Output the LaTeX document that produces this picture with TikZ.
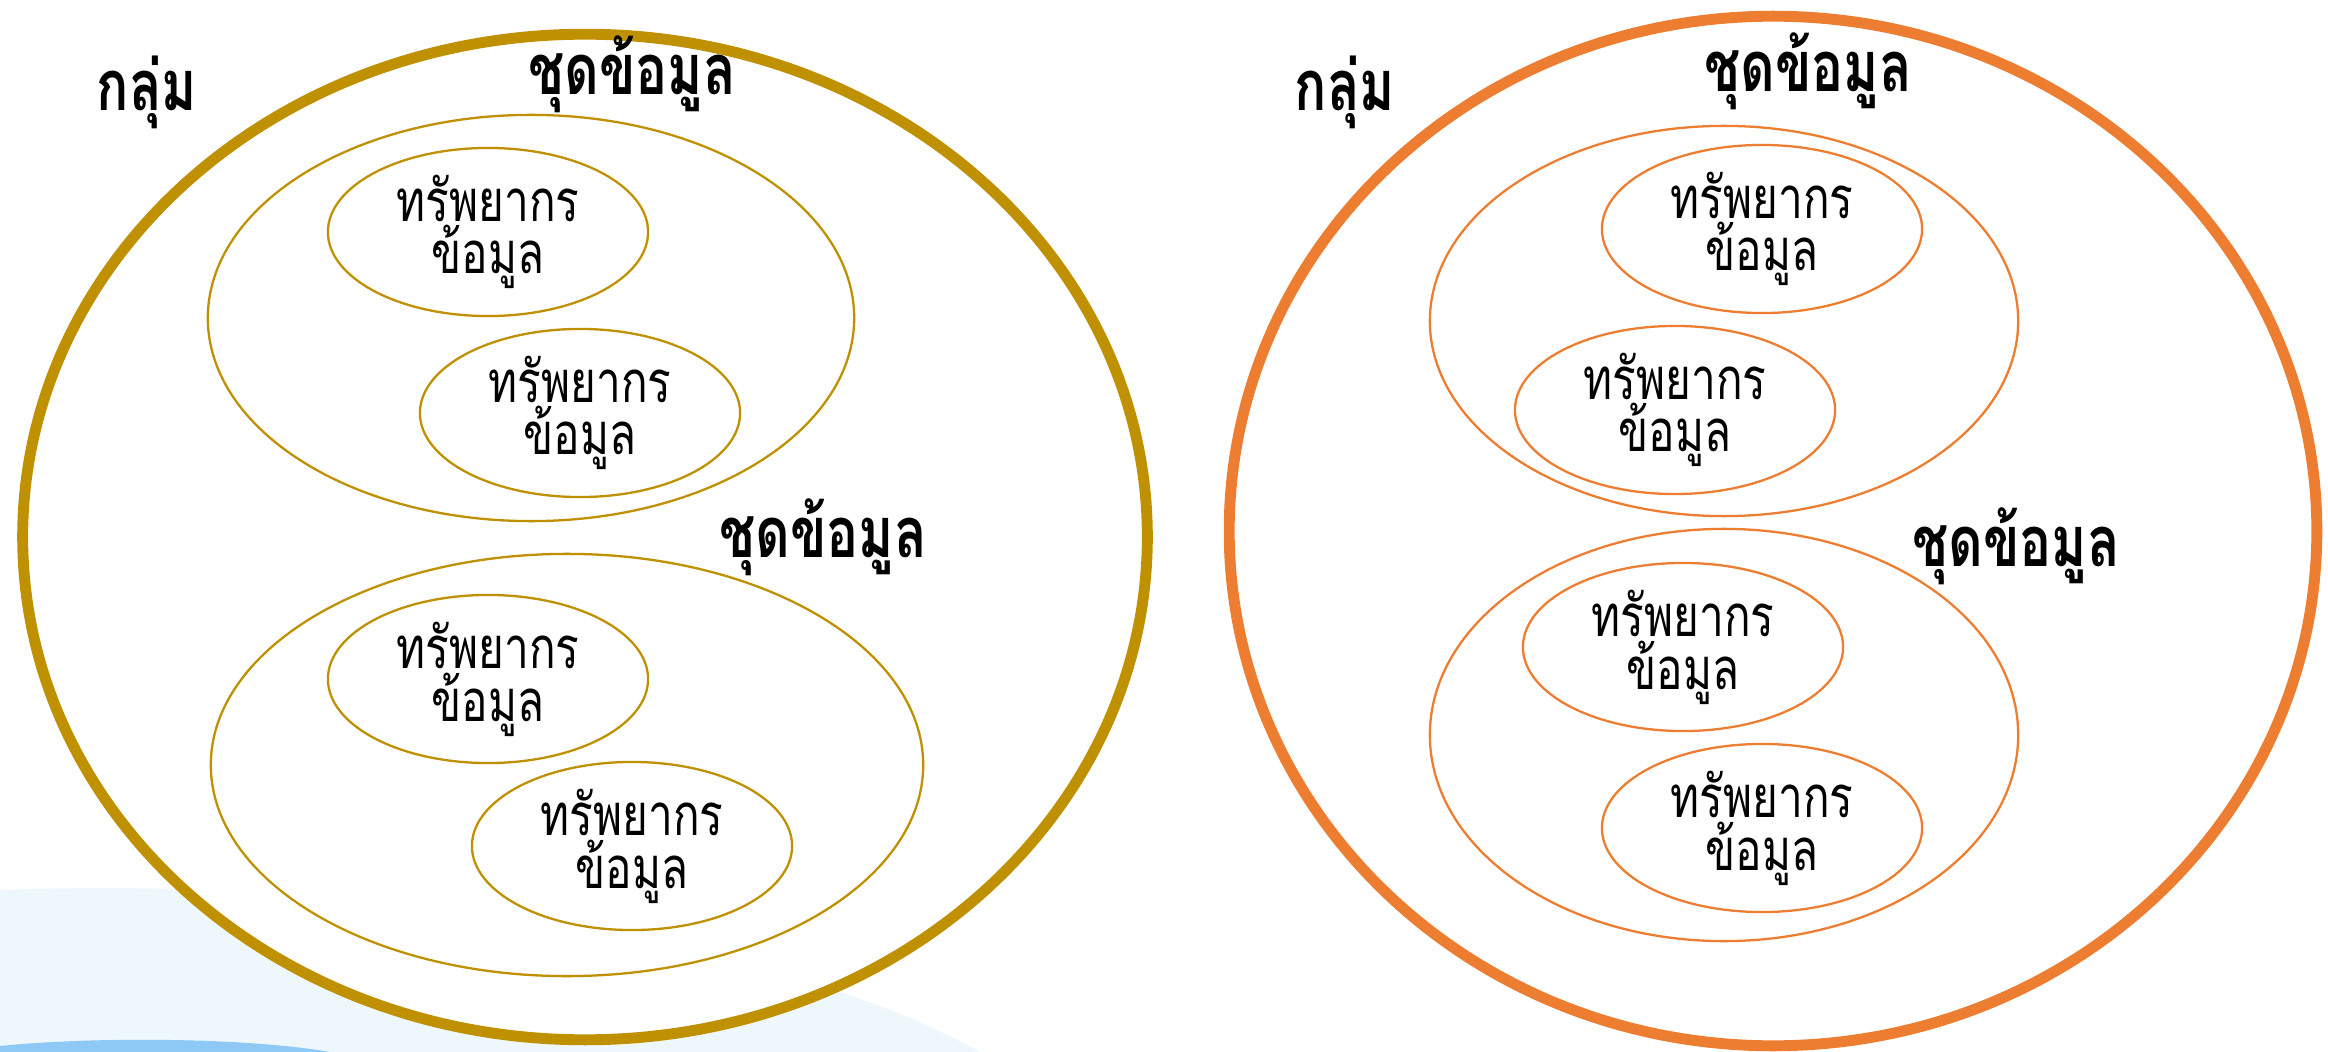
\documentclass[tikz,border=0pt]{standalone}
\usepackage{fontspec}
\newfontfamily\thaifont[Script=Thai, FakeStretch=0.76]{Loma}
\usetikzlibrary{shapes.geometric}
\definecolor{gold}{HTML}{BF9000}
\definecolor{tangerine}{HTML}{ED7D31}
\definecolor{washblue}{HTML}{EEF8FC}
\definecolor{bandblue}{HTML}{8EC8F4}
\tikzset{
  grp/.style={ellipse, draw=#1, line width=3.1pt, fill=white, inner sep=0pt},
  dataset/.style={ellipse, draw=#1, line width=0.65pt, inner sep=0pt},
  resource/.style={ellipse, draw=#1, line width=0.65pt, inner sep=0pt,
    minimum width=3.2cm, minimum height=1.68cm, align=center,
    font=\thaifont\fontsize{16.5}{15}\selectfont},
  tag/.style={font=\thaifont\bfseries\fontsize{20}{22}\selectfont, inner sep=0pt}
}
\begin{document}
\begin{tikzpicture}[x=0.01cm,y=-0.01cm]
\useasboundingbox (0,0) rectangle (2328,1052);
% background wash
\fill[washblue] (0,1052) -- (0,890) .. controls (400,875) and (800,950) .. (980,1052) -- cycle;
\fill[bandblue] (0,1052) -- (0,1046) .. controls (100,1036) and (250,1038) .. (330,1052) -- cycle;
% left group
\node[grp=gold, minimum width=11.24cm, minimum height=10.05cm] (grpL) at (585,537) {};
\node[dataset=gold, minimum width=6.46cm, minimum height=4.06cm] (setLa) at (531,318) {};
\node[dataset=gold, minimum width=7.12cm, minimum height=4.22cm] (setLb) at (567,765) {};
\node[resource=gold] (resLa) at (488,232) {ทรัพยากร\\ข้อมูล};
\node[resource=gold] (resLb) at (580,413) {ทรัพยากร\\ข้อมูล};
\node[resource=gold] (resLc) at (488,679) {ทรัพยากร\\ข้อมูล};
\node[resource=gold] (resLd) at (632,846) {ทรัพยากร\\ข้อมูล};
\node[tag] (grpLtag) at (147,92) {กลุ่ม};
\node[tag] (setLatag) at (632,74) {ชุดข้อมูล};
\node[tag] (setLbtag) at (823,537) {ชุดข้อมูล};
% right group
\node[grp=tangerine, minimum width=10.87cm, minimum height=10.29cm] (grpR) at (1773,531) {};
\node[dataset=tangerine, minimum width=5.88cm, minimum height=3.90cm] (setRa) at (1724,321) {};
\node[dataset=tangerine, minimum width=5.88cm, minimum height=4.12cm] (setRb) at (1724,735) {};
\node[resource=tangerine] (resRa) at (1762,229) {ทรัพยากร\\ข้อมูล};
\node[resource=tangerine] (resRb) at (1675,410) {ทรัพยากร\\ข้อมูล};
\node[resource=tangerine] (resRc) at (1683,647) {ทรัพยากร\\ข้อมูล};
\node[resource=tangerine] (resRd) at (1762,828) {ทรัพยากร\\ข้อมูล};
\node[tag] (grpRtag) at (1345,92) {กลุ่ม};
\node[tag] (setRatag) at (1808,71) {ชุดข้อมูล};
\node[tag] (setRbtag) at (2016,546) {ชุดข้อมูล};
\end{tikzpicture}
\end{document}
